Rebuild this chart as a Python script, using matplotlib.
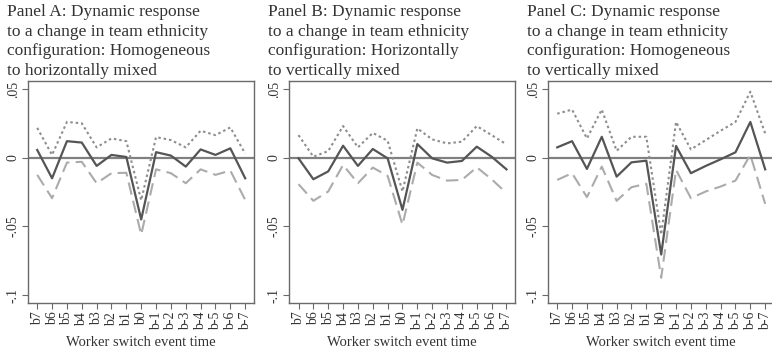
import matplotlib
matplotlib.use("Agg")
import matplotlib.pyplot as plt

plt.rcParams["font.family"] = ["Liberation Serif", "DejaVu Serif"]

event_time = ["b7", "b6", "b5", "b4", "b3", "b2", "b1", "b0",
              "b-1", "b-2", "b-3", "b-4", "b-5", "b-6", "b-7"]

titles = [
    "Panel A: Dynamic response\nto a change in team ethnicity\nconfiguration: Homogeneous\nto horizontally mixed",
    "Panel B: Dynamic response\nto a change in team ethnicity\nconfiguration: Horizontally\nto vertically mixed",
    "Panel C: Dynamic response\nto a change in team ethnicity\nconfiguration: Homogeneous\nto vertically mixed",
]

# point estimates
coef_a = [0.0056, -0.015, 0.012, 0.011, -0.006, 0.002, 0.0005, -0.045,
          0.004, 0.0015, -0.0065, 0.006, 0.002, 0.0068, -0.015]
coef_b = [-0.0005, -0.0157, -0.010, 0.0087, -0.006, 0.0063, -0.0005, -0.038,
          0.0099, -0.0005, -0.0036, -0.0024, 0.008, 0.0007, -0.0085]
coef_c = [0.0075, 0.012, -0.0082, 0.0152, -0.0138, -0.0034, -0.0022, -0.0705,
          0.0085, -0.0113, -0.006, -0.0012, 0.0039, 0.026, -0.0085]

# upper bounds (dotted)
upper_a = [0.0217, 0.002, 0.026, 0.025, 0.0075, 0.014, 0.012, -0.031,
           0.015, 0.0128, 0.0075, 0.0196, 0.0164, 0.022, 0.003]
upper_b = [0.0164, 0.0007, 0.0048, 0.023, 0.0075, 0.018, 0.0123, -0.0246,
           0.0213, 0.0133, 0.0104, 0.0116, 0.023, 0.0164, 0.0097]
upper_c = [0.032, 0.035, 0.014, 0.035, 0.005, 0.0152, 0.0152, -0.056,
           0.026, 0.006, 0.0128, 0.0196, 0.026, 0.048, 0.0176]

# lower bounds (dashed)
lower_a = [-0.0125, -0.0295, -0.0036, -0.003, -0.0186, -0.0113, -0.011, -0.056,
           -0.0085, -0.0113, -0.0186, -0.0085, -0.0125, -0.0094, -0.0307]
lower_b = [-0.0193, -0.0314, -0.0246, -0.0053, -0.0186, -0.0072, -0.0133, -0.0488,
           -0.0036, -0.0126, -0.0167, -0.0162, -0.007, -0.0157, -0.0258]
lower_c = [-0.0162, -0.0113, -0.0287, -0.0065, -0.0314, -0.0215, -0.019, -0.0874,
           -0.0089, -0.0295, -0.0246, -0.021, -0.0167, 0.002, -0.0336]

coefs = [coef_a, coef_b, coef_c]
uppers = [upper_a, upper_b, upper_c]
lowers = [lower_a, lower_b, lower_c]

y_ticks = [0.05, 0, -0.05, -0.1]
y_tick_labels = [".05", "0", "-.05", "-.1"]

fig = plt.figure(figsize=(7.72, 3.53), dpi=100)
fig.patch.set_facecolor("white")

lefts = [28, 289.3, 548]
width = 225.5
bottom = (353 - 303.3) / 353
height = (303.3 - 81) / 353

x = list(range(len(event_time)))
spine_col = "#6a6a6a"

for i in range(3):
    ax = fig.add_axes([lefts[i] / 772, bottom, width / 772, height])
    ax.axhline(0, color="#808080", lw=1.6, zorder=1)
    ax.plot(x, uppers[i], color="#8e8e8e", lw=1.5, linestyle=(0, (1.2, 1.4)), zorder=2)
    ax.plot(x, lowers[i], color="#ababab", lw=1.5, linestyle=(0, (6, 3)), zorder=2)
    ax.plot(x, coefs[i], color="#555555", lw=1.6, zorder=3)

    ax.set_xlim(-0.62, 14.56)
    ax.set_ylim(-0.106, 0.0558)
    ax.set_xticks(x)
    ax.set_xticklabels(event_time, rotation=90, fontsize=10, color="#333333")
    ax.set_yticks(y_ticks)
    ax.set_yticklabels(y_tick_labels, rotation=90, va="center", fontsize=10, color="#333333")
    ax.tick_params(direction="out", length=4, width=0.8, color=spine_col, pad=2)
    for s in ax.spines.values():
        s.set_color(spine_col)
        s.set_linewidth(1.0)
    ax.set_xlabel("Worker switch event time", fontsize=10.5, color="#333333", labelpad=4)

    fig.text((lefts[i] - 21) / 772, 1 - 4 / 353, titles[i], ha="left", va="top",
             fontsize=12.5, color="#333333", linespacing=1.3)

fig.savefig("out.png", dpi=100)
